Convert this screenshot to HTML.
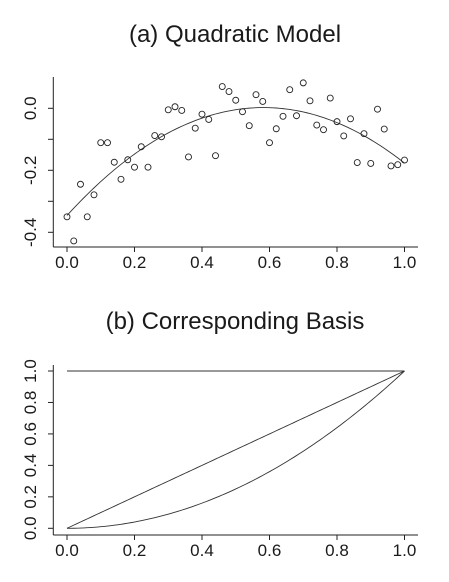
<!DOCTYPE html>
<html><head><meta charset="utf-8"><style>
html,body{margin:0;padding:0;background:#fff;}
svg{display:block;font-family:"Liberation Sans",Arial,sans-serif;}
</style></head><body>
<svg id="chart" width="449" height="582" viewBox="0 0 449 582" xmlns="http://www.w3.org/2000/svg">
<text x="235" y="42" font-size="24" text-anchor="middle" fill="#1a1a1a">(a) Quadratic Model</text>
<text x="235" y="329" font-size="24" text-anchor="middle" fill="#1a1a1a">(b) Corresponding Basis</text>
<g id="topPlot"></g>
<g id="bottomPlot"></g>
</svg>
<script>
const xValues = [0,0.02,0.04,0.06,0.08,0.10,0.12,0.14,0.16,0.18,0.20,0.22,0.24,0.26,0.28,0.30,0.32,0.34,0.36,0.38,0.40,0.42,0.44,0.46,0.48,0.50,0.52,0.54,0.56,0.58,0.60,0.62,0.64,0.66,0.68,0.70,0.72,0.74,0.76,0.78,0.80,0.82,0.84,0.86,0.88,0.90,0.92,0.94,0.96,0.98,1.00];
const yValues = [-0.35,-0.428,-0.245,-0.35,-0.279,-0.111,-0.111,-0.174,-0.229,-0.166,-0.19,-0.124,-0.19,-0.088,-0.092,-0.005,0.005,-0.007,-0.157,-0.064,-0.019,-0.036,-0.153,0.07,0.054,0.026,-0.011,-0.056,0.044,0.022,-0.111,-0.066,-0.026,0.06,-0.024,0.082,0.024,-0.054,-0.069,0.033,-0.043,-0.089,-0.034,-0.175,-0.082,-0.178,-0.003,-0.067,-0.186,-0.182,-0.167];
const xTicks = [0,0.2,0.4,0.6,0.8,1.0];
const xTickLabels = ["0.0","0.2","0.4","0.6","0.8","1.0"];
const topYTicks = [0,-0.1,-0.2,-0.3,-0.4];
const topYLabels = ["0.0","","-0.2","","-0.4"];
const basisYTicks = [0,0.2,0.4,0.6,0.8,1.0];
const basisYLabels = ["0.0","0.2","0.4","0.6","0.8","1.0"];
const basisPowers = [0,1,2];

const NS="http://www.w3.org/2000/svg";
function mk(tag, attrs, parent){const e=document.createElementNS(NS,tag);for(const k in attrs)e.setAttribute(k,attrs[k]);parent.appendChild(e);return e;}
const sx = v => 67 + v*337.5;
const syTop = v => 108.3 - v*310;
const syBot = v => 528.3 - v*157.3;
const topG = document.getElementById('topPlot');
const botG = document.getElementById('bottomPlot');
const stroke = {stroke:'#222','stroke-width':1,fill:'none'};

function axes(g, sy, yTicks, yLabels, axisTop, axisBottom, xAxisY){
  const ya = mk('line',Object.assign({x1:53.3,x2:53.3,y1:axisTop,y2:axisBottom},stroke),g);
  
  
  const xa = mk('line',Object.assign({x1:53.3,x2:418,y1:xAxisY,y2:xAxisY},stroke),g);
  
  
  yTicks.forEach((t,i)=>{
    const y=sy(t);
    const tk=mk('line',Object.assign({x1:48,x2:53.3,y1:y,y2:y},stroke),g);
    
    
    if(yLabels[i]){
      const tx=mk('text',{x:0,y:0,'font-size':17,'text-anchor':'middle',fill:'#1a1a1a',transform:`translate(36,${y}) rotate(-90)`},g);
      tx.textContent=yLabels[i];
      
      
    }
  });
  xTicks.forEach((t,i)=>{
    const x=sx(t);
    const tk=mk('line',Object.assign({x1:x,x2:x,y1:xAxisY,y2:xAxisY+5},stroke),g);
    
    
    const tx=mk('text',{x:x,y:xAxisY+21,'font-size':17,'text-anchor':'middle',fill:'#1a1a1a'},g);
    tx.textContent=xTickLabels[i];
    
    
  });
}
axes(topG, syTop, topYTicks, topYLabels, 77, 247, 247);
axes(botG, syBot, basisYTicks, basisYLabels, 365, 535, 535);

let S=[[0,0,0],[0,0,0],[0,0,0]], B=[0,0,0];
xValues.forEach((x,i)=>{const p=[1,x,x*x];for(let a=0;a<3;a++){B[a]+=p[a]*yValues[i];for(let b=0;b<3;b++)S[a][b]+=p[a]*p[b];}});
function solve(A,b){A=A.map((r,i)=>r.concat([b[i]]));for(let i=0;i<3;i++){for(let j=i+1;j<3;j++){const f=A[j][i]/A[i][i];for(let k=i;k<4;k++)A[j][k]-=f*A[i][k];}}const x=[0,0,0];for(let i=2;i>=0;i--){let s=A[i][3];for(let k=i+1;k<3;k++)s-=A[i][k]*x[k];x[i]=s/A[i][i];}return x;}
const coef=solve(S,B);
let d='';
for(let i=0;i<=100;i++){const x=i/100;const y=coef[0]+coef[1]*x+coef[2]*x*x;d+=(i?'L':'M')+sx(x).toFixed(2)+','+syTop(y).toFixed(2);}
const fit=mk('path',{d:d,stroke:'#333','stroke-width':0.9,fill:'none'},topG);


xValues.forEach((x,i)=>{
  const pt=mk('circle',{cx:sx(x),cy:syTop(yValues[i]),r:3,stroke:'#222','stroke-width':0.9,fill:'none'},topG);
  
  
});
basisPowers.forEach(p=>{
  let dd='';
  for(let i=0;i<=100;i++){const x=i/100;dd+=(i?'L':'M')+sx(x).toFixed(2)+','+syBot(Math.pow(x,p)).toFixed(2);}
  const l=mk('path',{d:dd,stroke:'#333','stroke-width':0.9,fill:'none'},botG);
  
  
});
</script>
</body></html>
